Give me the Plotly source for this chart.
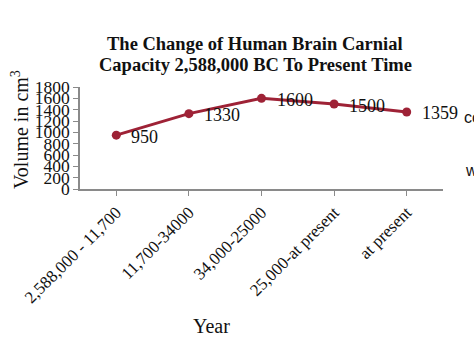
import plotly.graph_objects as go

# Periods and mean cranial capacity (cm³)
periods = ["2,588,000 - 11,700", "11,700-34000", "34,000-25000",
           "25,000-at present", "at present"]
volumes = [950, 1330, 1600, 1500, 1359]
y_ticks = [0, 200, 400, 600, 800, 1000, 1200, 1400, 1600, 1800]
title_lines = ["The Change of Human Brain Carnial",
               "Capacity 2,588,000 BC To Present Time"]

W, H = 474, 344
L, R, T, B = 80, 31, 87, 155
PW, PH = W - L - R, H - T - B
serif = "Liberation Serif, Times New Roman, serif"
sans = "Arial, Liberation Sans, sans-serif"
line_color = "#9E2236"


def px_x(px):
    return (px - L) / PW


def px_y(py):
    return (H - B - py) / PH


fig = go.Figure()
fig.add_trace(go.Scatter(
    x=list(range(len(periods))), y=volumes,
    mode="lines+markers",
    line=dict(color=line_color, width=3),
    marker=dict(color=line_color, size=9),
    showlegend=False,
))

annotations = []
# value labels next to each point
for i, v in enumerate(volumes):
    annotations.append(dict(
        x=i, y=v, xref="x", yref="y", text=str(v), showarrow=False,
        xanchor="left", yanchor="middle", xshift=13, yshift=-1.5,
        font=dict(family=serif, size=18, color="#111"),
    ))
# two-line bold title
for line, py in zip(title_lines, [44, 65]):
    annotations.append(dict(
        text=f"<b>{line}</b>", xref="paper", yref="paper",
        x=px_x(255), y=px_y(py), showarrow=False,
        xanchor="center", yanchor="middle",
        font=dict(family=serif, size=18.5, color="#111"),
    ))
annotations += [
    dict(text="Volume in cm<sup>3</sup>", xref="paper", yref="paper",
         x=px_x(20), y=px_y(130), textangle=-90,
         showarrow=False, xanchor="center", yanchor="middle",
         font=dict(family=serif, size=20, color="#111")),
    dict(text="Year", xref="paper", yref="paper",
         x=px_x(211), y=px_y(326),
         showarrow=False, xanchor="center", yanchor="middle",
         font=dict(family=serif, size=20, color="#111")),
    dict(text="co", xref="paper", yref="paper",
         x=px_x(462), y=px_y(117),
         showarrow=False, xanchor="left", yanchor="middle",
         font=dict(family=sans, size=16, color="#111")),
    dict(text="w", xref="paper", yref="paper",
         x=px_x(463), y=px_y(170),
         showarrow=False, xanchor="left", yanchor="middle",
         font=dict(family=sans, size=16, color="#111")),
]

fig.update_layout(
    width=W, height=H,
    margin=dict(l=L, r=R, t=T, b=B),
    paper_bgcolor="white", plot_bgcolor="white",
    font=dict(family=serif, color="#111"),
    xaxis=dict(
        range=[-0.5, len(periods) - 0.5],
        tickmode="array", tickvals=list(range(len(periods))), ticktext=periods,
        tickangle=-45, tickfont=dict(family=serif, size=17, color="#111"),
        showline=True, linecolor="#8a8a8a", linewidth=1.5,
        ticks="outside", ticklen=5, tickcolor="#8a8a8a",
        showgrid=False, zeroline=False,
    ),
    yaxis=dict(
        range=[0, 1800], tickmode="array", tickvals=y_ticks,
        tickfont=dict(family=serif, size=17.5, color="#111"),
        showline=True, linecolor="#8a8a8a", linewidth=1.5,
        ticks="outside", ticklen=5, tickcolor="#8a8a8a",
        showgrid=False, zeroline=False,
    ),
    annotations=annotations,
)

fig.write_html("out.html")
